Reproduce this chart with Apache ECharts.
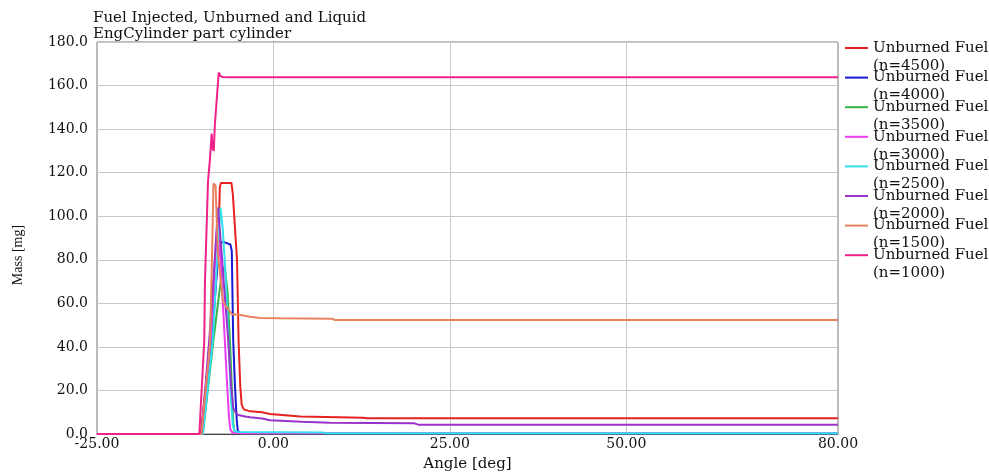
<!DOCTYPE html>
<html>
<head>
<meta charset="utf-8">
<script src="https://cdn.jsdelivr.net/npm/echarts@6/dist/echarts.min.js"></script>
<style>
  html, body { margin: 0; padding: 0; background: #ffffff; }
  #chart { width: 989px; height: 472px; }
</style>
</head>
<body>
<div id="chart"></div>
<script>
// Titles and axis text
const titleLines = ['Fuel Injected, Unburned and Liquid', 'EngCylinder part cylinder'];
const xName = 'Angle [deg]';
const yName = 'Mass [mg]';
const xTicks = [-25, 0, 25, 50, 80];
const xGridValues = [0, 25, 50];
const seriesLabel = 'Unburned Fuel';
const speeds = [4500, 4000, 3500, 3000, 2500, 2000, 1500, 1000];

// Unburned fuel mass per engine speed: [crank angle (deg), mass (mg)]
const fuel4500 = [[-25, 0], [-10.3, 0], [-8.9, 43], [-7.85, 80], [-7.6, 113], [-7.45, 115.3], [-5.95, 115.3],
  [-5.75, 110], [-5.16, 80], [-4.93, 42], [-4.7, 22], [-4.5, 13.5], [-4.2, 11.3], [-3.3, 10.4], [-1.6, 10],
  [-0.5, 9.2], [3.8, 8], [12.7, 7.5], [13.2, 7.2], [80, 7.2]];
const fuel4000 = [[-25, 0], [-10.1, 0], [-8.7, 43], [-7.9, 80], [-7.5, 88], [-6.9, 88], [-6.1, 87], [-5.9, 84],
  [-5.7, 43], [-5.45, 22], [-5.2, 6.5], [-5.05, 1.5], [-4.7, 0.6], [-3, 0.3], [80, 0.3]];
const fuel3500 = [[-25, 0], [-10, 0], [-8.5, 43], [-7.4, 72], [-6.9, 77], [-6.5, 65], [-6.15, 42], [-5.9, 22],
  [-5.7, 5], [-5.5, 1], [-5, 0.3], [80, 0.3]];
const fuel3000 = [[-25, 0], [-10.2, 0], [-8.9, 43], [-8.0, 95], [-7.8, 98], [-7.5, 80], [-7, 50], [-6.6, 25],
  [-6.3, 8], [-6.1, 2], [-5.8, 0.6], [-4.5, 0.3], [80, 0.3]];
const fuel2500 = [[-25, 0], [-10, 0], [-8.6, 43], [-7.9, 85], [-7.5, 104], [-7.2, 95], [-6.85, 77], [-6.4, 45],
  [-6.0, 15], [-5.75, 4], [-5.5, 1.3], [-5, 0.9], [7, 0.7], [7.5, 0.3], [80, 0.3]];
const fuel2000 = [[-25, 0], [-10.2, 0], [-9.1, 43], [-8.3, 81], [-7.85, 104], [-7.5, 90], [-7, 68], [-6.4, 43],
  [-6, 22], [-5.69, 12], [-5.3, 9.5], [-5.0, 8.7], [-4.0, 8.0], [-3.3, 7.7], [-1.6, 7.1], [-0.5, 6.3],
  [4, 5.6], [8, 5.2], [20, 4.9], [20.6, 4.2], [80, 4.2]];
const fuel1500 = [[-25, 0], [-10.2, 0], [-9.0, 41], [-8.7, 82], [-8.5, 115], [-8.2, 114], [-7.85, 82],
  [-7.15, 61], [-6.6, 58], [-5.9, 55], [-4.7, 54.6], [-3.3, 53.8], [-1.9, 53.3], [1, 53.1], [8.4, 52.9],
  [8.7, 52.3], [80, 52.3]];
const fuel1000 = [[-25, 0], [-10.5, 0], [-9.8, 43], [-9.7, 70], [-9.27, 116], [-9.0, 126], [-8.75, 138],
  [-8.6, 131], [-8.45, 130], [-8.3, 142], [-7.75, 166], [-7.55, 164.5], [-7.2, 163.9], [-6.5, 163.8], [80, 163.8]];

const fuelBySpeed = [fuel4500, fuel4000, fuel3500, fuel3000, fuel2500, fuel2000, fuel1500, fuel1000];
const lineColors = ['#e52222', '#1a1ad4', '#33b54a', '#f03cf0', '#33e0ee', '#9933cc', '#e8825f', '#ee2288'];

const FONT = 'DejaVu Serif';
const chart = echarts.init(document.getElementById('chart'), null, { renderer: 'canvas' });

const series = speeds.map((n, i) => {
  const s = {
    name: seriesLabel + ' (n=' + n + ')',
    type: 'line',
    data: fuelBySpeed[i],
    showSymbol: false,
    symbol: 'none',
    lineStyle: { color: lineColors[i], width: 2 },
    itemStyle: { color: lineColors[i] },
    emphasis: { disabled: true }
  };
  if (i === 0) {
    // vertical grid lines at the interior angle ticks
    s.markLine = {
      silent: true,
      z: 1,
      symbol: 'none',
      label: { show: false },
      lineStyle: { color: '#c8c8c8', width: 1, type: 'solid' },
      emphasis: { disabled: true },
      data: xGridValues.map(v => ({ xAxis: v }))
    };
  }
  return s;
});

chart.setOption({
  animation: false,
  backgroundColor: '#ffffff',
  title: {
    text: titleLines.join('\n'),
    left: 93,
    top: 10,
    padding: 0,
    textStyle: { fontFamily: FONT, fontSize: 15, fontWeight: 'normal', color: '#111', lineHeight: 16 }
  },
  grid: {
    left: 97, right: 151, top: 42, bottom: 38,
    outerBoundsMode: 'none',
    containLabel: false,
    show: true, borderColor: '#777', borderWidth: 1, backgroundColor: 'transparent'
  },
  legend: {
    orient: 'vertical',
    left: 845,
    top: 21,
    padding: 0,
    itemGap: -24.4,
    itemWidth: 23,
    itemHeight: 2,
    icon: 'rect',
    selectedMode: false,
    // leading blank line keeps the first text line level with the colour swatch
    formatter: name => '\n' + name.replace(' (', '\n('),
    textStyle: { fontFamily: FONT, fontSize: 15, color: '#111', lineHeight: 18 }
  },
  xAxis: {
    type: 'value',
    min: -25,
    max: 80,
    name: xName,
    nameLocation: 'middle',
    nameGap: 23,
    nameTextStyle: { fontFamily: FONT, fontSize: 15, color: '#111' },
    axisLine: { show: true, lineStyle: { color: '#444', width: 1 } },
    axisTick: { show: false, customValues: xTicks },
    axisLabel: {
      customValues: xTicks,
      margin: 3,
      fontFamily: FONT, fontSize: 14, color: '#111',
      formatter: v => v.toFixed(2)
    },
    splitLine: { show: false }
  },
  yAxis: {
    type: 'value',
    min: 0,
    max: 180,
    interval: 20,
    axisLine: { show: true, lineStyle: { color: '#444', width: 1 } },
    axisTick: { show: false },
    axisLabel: {
      margin: 9,
      fontFamily: FONT, fontSize: 14, color: '#111',
      formatter: v => v.toFixed(1)
    },
    splitLine: { show: true, lineStyle: { color: '#c8c8c8', width: 1 } }
  },
  graphic: [{
    type: 'text',
    x: 18,
    y: 255,
    rotation: Math.PI / 2,
    style: { text: yName, fontFamily: 'Liberation Serif', fontSize: 14, fill: '#111', align: 'center', verticalAlign: 'middle' }
  }],
  series: series
});
</script>
</body>
</html>
